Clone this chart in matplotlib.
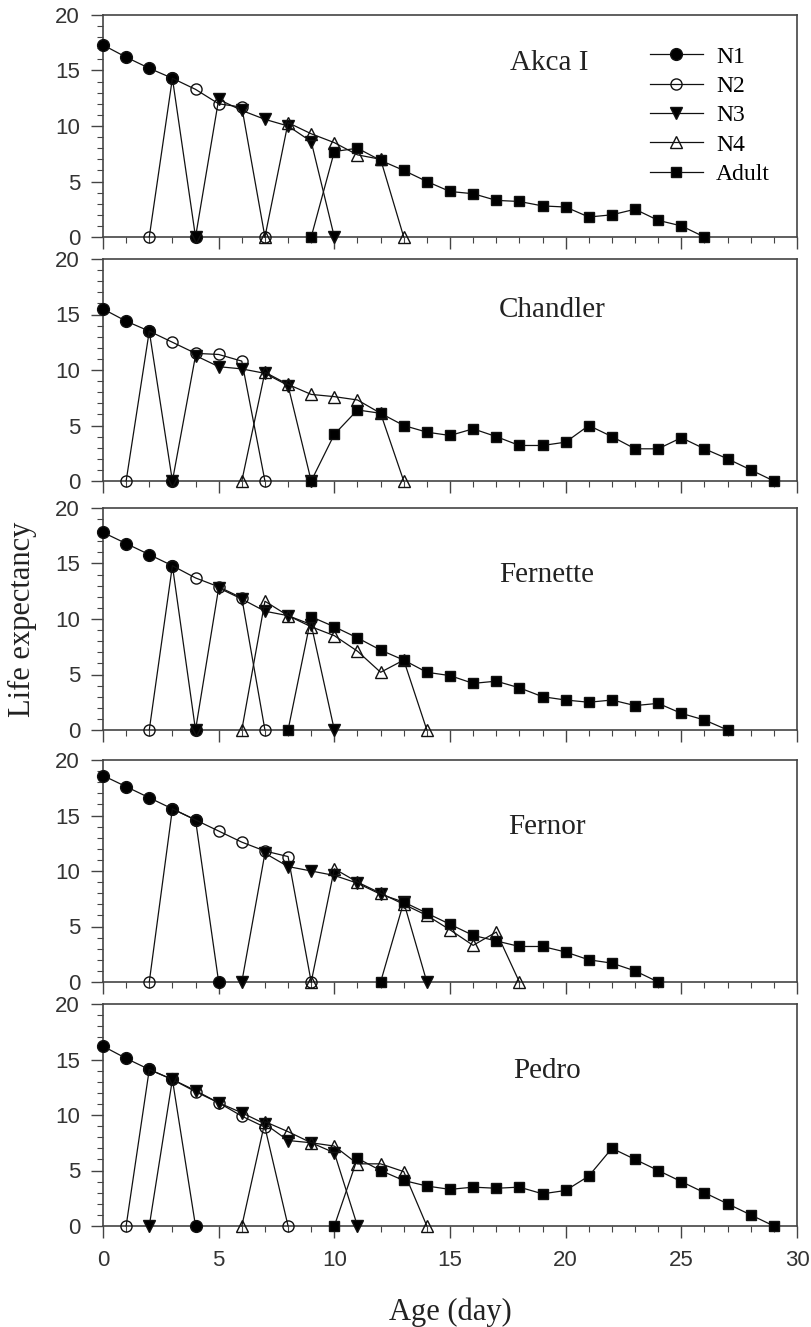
import numpy as np
import matplotlib
matplotlib.use('Agg')
from matplotlib import pyplot as plt
from matplotlib.ticker import MultipleLocator

# panel names
cultivars = ['Akca I', 'Chandler', 'Fernette', 'Fernor', 'Pedro']
stages = ['N1', 'N2', 'N3', 'N4', 'Adult']

# first age (day) of each stage curve, per cultivar: N1, N2, N3, N4, Adult
akca_start = [0, 2, 4, 7, 9]
chandler_start = [0, 1, 3, 6, 9]
fernette_start = [0, 2, 4, 6, 8]
fernor_start = [0, 2, 6, 9, 12]
pedro_start = [0, 1, 2, 6, 10]

# life expectancy values
akca_n1 = [17.3, 16.2, 15.2, 14.3, 0]
akca_n2 = [0, 14.3, 13.3, 12.0, 11.7, 0]
akca_n3 = [0, 12.4, 11.4, 10.6, 10.0, 8.6, 0]
akca_n4 = [0, 10.3, 9.3, 8.5, 7.4, 7.0, 0]
akca_adult = [0, 7.7, 8.0, 6.9, 6.0, 5.0, 4.1, 3.9, 3.3, 3.2, 2.8, 2.7,
              1.8, 2.0, 2.5, 1.5, 1.0, 0]

chandler_n1 = [15.5, 14.4, 13.5, 0]
chandler_n2 = [0, 13.5, 12.5, 11.5, 11.4, 10.8, 0]
chandler_n3 = [0, 11.3, 10.3, 10.1, 9.7, 8.6, 0]
chandler_n4 = [0, 9.8, 8.7, 7.8, 7.6, 7.3, 6.1, 0]
chandler_adult = [0, 4.2, 6.4, 6.1, 5.0, 4.4, 4.1, 4.7, 4.0, 3.2, 3.2, 3.5,
                  5.0, 4.0, 2.9, 2.9, 3.9, 2.9, 2.0, 1.0, 0]

fernette_n1 = [17.8, 16.8, 15.8, 14.8, 0]
fernette_n2 = [0, 14.8, 13.7, 12.9, 11.9, 0]
fernette_n3 = [0, 12.8, 11.8, 10.7, 10.3, 9.5, 0]
fernette_n4 = [0, 11.6, 10.3, 9.3, 8.5, 7.1, 5.2, 6.3, 0]
fernette_adult = [0, 10.2, 9.3, 8.3, 7.2, 6.3, 5.2, 4.9, 4.2, 4.4, 3.8, 3.0,
                  2.7, 2.5, 2.7, 2.2, 2.4, 1.5, 0.9, 0]

fernor_n1 = [18.6, 17.6, 16.6, 15.6, 14.6, 0]
fernor_n2 = [0, 15.6, 14.6, 13.6, 12.6, 11.8, 11.3, 0]
fernor_n3 = [0, 11.6, 10.4, 10.0, 9.6, 8.9, 7.9, 7.2, 0]
fernor_n4 = [0, 10.2, 9.0, 8.0, 7.0, 6.0, 4.7, 3.3, 4.5, 0]
fernor_adult = [0, 7.2, 6.2, 5.2, 4.2, 3.7, 3.2, 3.2, 2.7, 2.0, 1.7, 1.0, 0]

pedro_n1 = [16.2, 15.1, 14.1, 13.2, 0]
pedro_n2 = [0, 14.1, 13.2, 12.1, 11.1, 9.9, 8.9, 0]
pedro_n3 = [0, 13.2, 12.2, 11.1, 10.2, 9.2, 7.7, 7.5, 6.6, 0]
pedro_n4 = [0, 9.4, 8.5, 7.5, 7.2, 5.6, 5.6, 4.9, 0]
pedro_adult = [0, 6.1, 5.0, 4.1, 3.6, 3.3, 3.5, 3.4, 3.5, 2.9, 3.2, 4.5,
               7.0, 6.0, 5.0, 4.0, 3.0, 2.0, 1.0, 0]

panels = [
    (akca_start, [akca_n1, akca_n2, akca_n3, akca_n4, akca_adult]),
    (chandler_start, [chandler_n1, chandler_n2, chandler_n3, chandler_n4, chandler_adult]),
    (fernette_start, [fernette_n1, fernette_n2, fernette_n3, fernette_n4, fernette_adult]),
    (fernor_start, [fernor_n1, fernor_n2, fernor_n3, fernor_n4, fernor_adult]),
    (pedro_start, [pedro_n1, pedro_n2, pedro_n3, pedro_n4, pedro_adult]),
]

styles = [
    dict(marker='o', ms=8.5, mfc='black'),
    dict(marker='o', ms=8.0, mfc='none'),
    dict(marker='v', ms=9.0, mfc='black'),
    dict(marker='^', ms=9.0, mfc='none'),
    dict(marker='s', ms=7.5, mfc='black'),
]

serif = 'Liberation Serif'
sans = 'Liberation Sans'
axcol = '#444444'

W, H = 811, 1327
fig = plt.figure(figsize=(W / 100, H / 100), dpi=100)

# pixel rows of each panel (top at 20, bottom at 0)
rows = [(15, 237), (259, 481), (508, 730), (760, 982), (1004, 1226)]
label_pos = [(19.3, 15.7), (19.4, 15.4), (19.2, 14.0), (19.2, 14.0), (19.2, 14.0)]

for i, ((starts, series), (top, bot)) in enumerate(zip(panels, rows)):
    ax = fig.add_axes([103 / W, 1 - bot / H, 694 / W, (bot - top) / H])
    for j, vals in enumerate(series):
        ages = np.arange(starts[j], starts[j] + len(vals))
        ax.plot(ages, vals, color='#111111', lw=0.9, mec='#111111', mew=1.0,
                clip_on=False, label=stages[j], zorder=3 + j, **styles[j])
    ax.set_xlim(0, 30)
    ax.set_ylim(0, 20)
    ax.xaxis.set_major_locator(MultipleLocator(5))
    ax.xaxis.set_minor_locator(MultipleLocator(1))
    ax.yaxis.set_major_locator(MultipleLocator(5))
    ax.yaxis.set_minor_locator(MultipleLocator(1))
    ax.tick_params(which='major', direction='out', length=8.5, width=1.0, color=axcol)
    ax.tick_params(which='minor', direction='out', length=4.0, width=0.8, color=axcol)
    ax.tick_params(axis='y', labelsize=16, labelcolor='#333333', pad=8)
    ax.tick_params(axis='x', labelsize=16, labelcolor='#333333', pad=9)
    for lab in ax.get_xticklabels() + ax.get_yticklabels():
        lab.set_fontfamily(sans)
    if i < 4:
        ax.tick_params(axis='x', labelbottom=False)
    for sp in ax.spines.values():
        sp.set_color(axcol)
        sp.set_linewidth(1.2)
    lx, ly = label_pos[i]
    ax.text(lx, ly, cultivars[i], ha='center', va='center', fontsize=21,
            family=serif, color='#222222')
    if i == 0:
        ax.legend(loc='upper left', bbox_to_anchor=(0.788, 0.86), frameon=False,
                  borderpad=0, borderaxespad=0, handlelength=2.25, handletextpad=0.55,
                  labelspacing=0.33, prop={'family': serif, 'size': 17})

fig.text(22 / W, 1 - 619 / H, 'Life expectancy', rotation=90, ha='center',
         va='center', fontsize=22, family=serif, color='#222222')
fig.text(450 / W, 1 - 1312 / H, 'Age (day)', ha='center', va='center',
         fontsize=22, family=serif, color='#222222')

fig.savefig('out.png', dpi=100)
